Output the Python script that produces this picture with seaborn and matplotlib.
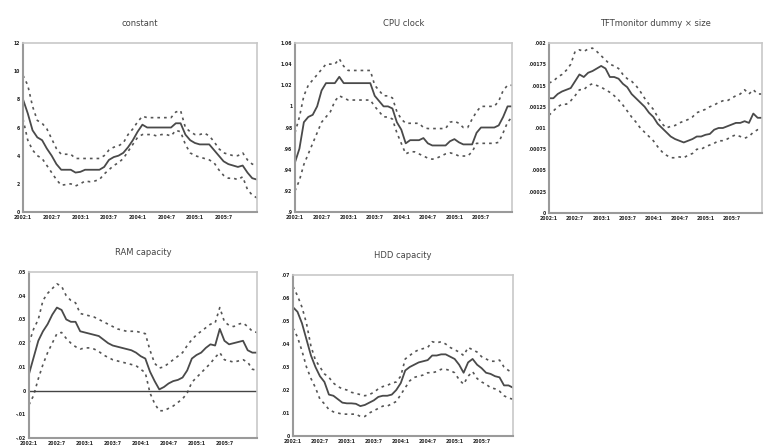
import numpy as np
import pandas as pd
import matplotlib
matplotlib.use("Agg")
import matplotlib.pyplot as plt
import seaborn as sns

sns.set_style("white")
plt.rcParams['font.family'] = ['DejaVu Sans']

titles = ["constant", "CPU clock", "TFTmonitor dummy \u00d7 size", "RAM capacity", "HDD capacity"]
xtick_labels = ["2002:1", "2002:7", "2003:1", "2003:7", "2004:1", "2004:7", "2005:1", "2005:7"]

const_mid = [8.0, 7.0, 5.8, 5.3, 5.1, 4.5, 4.0, 3.4, 3.0, 3.0, 3.0, 2.8, 2.85, 3.0, 3.0, 3.0, 3.0, 3.2, 3.7, 3.9,
             4.0, 4.2, 4.6, 5.1, 5.7, 6.2, 6.0, 6.0, 6.0, 6.0, 6.0, 6.0, 6.3, 6.3, 5.5, 5.1, 4.9, 4.8, 4.8, 4.8,
             4.4, 4.0, 3.6, 3.4, 3.3, 3.2, 3.3, 2.8, 2.4, 2.3]
const_up = [9.7, 9.0, 7.5, 6.5, 6.3, 5.9, 5.2, 4.5, 4.1, 4.1, 4.1, 3.8, 3.8, 3.8, 3.8, 3.8, 3.8, 4.0, 4.4, 4.6,
            4.7, 4.9, 5.5, 5.9, 6.4, 6.8, 6.7, 6.7, 6.7, 6.7, 6.7, 6.7, 7.1, 7.2, 6.0, 5.7, 5.5, 5.5, 5.6, 5.4,
            5.0, 4.5, 4.2, 4.1, 4.0, 4.0, 4.2, 3.7, 3.4, 3.3]
const_lo = [6.6, 5.1, 4.4, 4.0, 3.8, 3.3, 2.8, 2.3, 1.9, 1.95, 2.0, 1.85, 2.0, 2.2, 2.15, 2.2, 2.3, 2.7, 3.0, 3.3,
            3.5, 3.8, 4.3, 4.8, 5.3, 5.5, 5.5, 5.5, 5.4, 5.5, 5.5, 5.4, 5.8, 5.7, 4.8, 4.2, 4.0, 3.9, 3.8, 3.7,
            3.5, 3.0, 2.6, 2.4, 2.4, 2.3, 2.5, 1.6, 1.2, 1.0]

cpu_mid = [0.947, 0.96, 0.985, 0.99, 0.992, 1.0, 1.015, 1.022, 1.022, 1.022, 1.028, 1.022, 1.022, 1.022, 1.022,
           1.022, 1.022, 1.022, 1.01, 1.005, 1.0, 1.0, 0.998, 0.985, 0.978, 0.965, 0.968, 0.968, 0.968, 0.97,
           0.965, 0.963, 0.963, 0.963, 0.963, 0.967, 0.969, 0.966, 0.964, 0.964, 0.964, 0.975, 0.98, 0.98, 0.98,
           0.98, 0.982, 0.99, 1.0, 1.0]
cpu_up = [0.975, 0.99, 1.01, 1.02, 1.025, 1.03, 1.035, 1.04, 1.04, 1.04, 1.045, 1.038, 1.034, 1.034, 1.034,
          1.034, 1.034, 1.034, 1.02, 1.015, 1.01, 1.01, 1.008, 0.995, 0.988, 0.984, 0.984, 0.984, 0.984, 0.98,
          0.979, 0.979, 0.979, 0.979, 0.979, 0.985, 0.986, 0.984, 0.98, 0.98, 0.988, 0.995, 1.0, 1.0, 1.0,
          1.0, 1.005, 1.015, 1.02, 1.02]
cpu_lo = [0.92, 0.93, 0.945, 0.955, 0.965, 0.975, 0.985, 0.99, 0.995, 1.005, 1.01, 1.008, 1.006, 1.006, 1.006,
          1.006, 1.006, 1.006, 1.0, 0.995, 0.99, 0.99, 0.988, 0.975, 0.965, 0.955, 0.957, 0.957, 0.955, 0.953,
          0.951, 0.95, 0.951, 0.953, 0.955, 0.956, 0.955, 0.953, 0.953, 0.953, 0.957, 0.965, 0.965, 0.965, 0.965,
          0.965, 0.966, 0.975, 0.985, 0.99]

tft_mid = [0.00135, 0.00135, 0.0014, 0.00143, 0.00145, 0.00147, 0.00155, 0.00163, 0.0016, 0.00165, 0.00167,
           0.0017, 0.00173, 0.0017, 0.0016, 0.0016, 0.00158, 0.00152, 0.00148, 0.0014, 0.00135, 0.0013, 0.00125,
           0.00118, 0.00113, 0.00105, 0.001, 0.00095, 0.0009, 0.00087, 0.00085, 0.00083, 0.00085, 0.00087, 0.0009,
           0.0009, 0.00092, 0.00093, 0.00098, 0.001, 0.001, 0.00102, 0.00104, 0.00106, 0.00106, 0.00108, 0.00106,
           0.00117, 0.00112, 0.00112]
tft_up = [0.00153, 0.00155, 0.0016, 0.00163, 0.00168, 0.00175, 0.0019, 0.00192, 0.0019, 0.00193, 0.00194, 0.0019,
          0.00185, 0.0018, 0.00175, 0.00173, 0.0017, 0.00163, 0.00158, 0.00155, 0.0015, 0.00143, 0.00135, 0.00128,
          0.00122, 0.00113, 0.00105, 0.001, 0.00102, 0.00103, 0.00106, 0.00108, 0.0011, 0.00113, 0.00118, 0.0012,
          0.00122, 0.00125, 0.00127, 0.0013, 0.00132, 0.00132, 0.00135, 0.00138, 0.0014, 0.00145, 0.0014, 0.00145,
          0.0014, 0.0014]
tft_lo = [0.00115, 0.0012, 0.00125, 0.00128, 0.00128, 0.00132, 0.00138, 0.00145, 0.00145, 0.0015, 0.00152, 0.0015,
          0.00148, 0.00145, 0.00142, 0.00138, 0.00133, 0.00127, 0.0012, 0.00113, 0.00107, 0.001, 0.00095, 0.0009,
          0.00085, 0.00078, 0.00072, 0.00068, 0.00065, 0.00065, 0.00066, 0.00065, 0.00068, 0.0007, 0.00075, 0.00075,
          0.00078, 0.0008, 0.00082, 0.00085, 0.00085, 0.00087, 0.0009, 0.00092, 0.0009, 0.00088, 0.0009, 0.00095,
          0.00098, 0.00098]

ram_mid = [0.7, 1.4, 2.1, 2.5, 2.8, 3.2, 3.5, 3.4, 3.0, 2.9, 2.9, 2.5, 2.45, 2.4, 2.35, 2.3, 2.15, 2.0, 1.9, 1.85,
           1.8, 1.75, 1.7, 1.6, 1.45, 1.35, 0.8, 0.4, 0.05, 0.15, 0.3, 0.4, 0.45, 0.55, 0.85, 1.35, 1.5, 1.6, 1.8,
           1.95, 1.9, 2.6, 2.1, 1.95, 2.0, 2.05, 2.1, 1.7, 1.6, 1.6]
ram_up = [2.0, 2.6, 3.0, 3.8, 4.1, 4.3, 4.5, 4.4, 4.0, 3.8, 3.7, 3.25, 3.2, 3.15, 3.1, 3.0, 2.9, 2.8, 2.7, 2.6,
          2.55, 2.5, 2.5, 2.5, 2.45, 2.4, 1.7, 1.15, 0.95, 1.0, 1.15, 1.3, 1.45, 1.6, 1.9, 2.15, 2.35, 2.5, 2.65,
          2.8, 2.85, 3.5, 2.9, 2.75, 2.7, 2.8, 2.85, 2.7, 2.5, 2.45]
ram_lo = [-0.6, -0.2, 0.5, 1.1, 1.6, 2.0, 2.4, 2.45, 2.2, 2.0, 1.85, 1.75, 1.8, 1.8, 1.75, 1.65, 1.5, 1.4, 1.3,
          1.25, 1.2, 1.15, 1.1, 1.05, 0.9, 0.75, -0.1, -0.55, -0.85, -0.85, -0.75, -0.65, -0.5, -0.35, -0.1, 0.35,
          0.55, 0.75, 0.95, 1.15, 1.4, 1.6, 1.3, 1.25, 1.2, 1.25, 1.3, 1.2, 0.9, 0.85]

hdd_mid = [5.6, 5.4, 4.9, 4.2, 3.5, 3.0, 2.6, 2.35, 1.8, 1.75, 1.6, 1.45, 1.42, 1.42, 1.4, 1.3, 1.35, 1.45, 1.55,
           1.7, 1.75, 1.75, 1.8, 2.0, 2.3, 2.85, 3.0, 3.1, 3.2, 3.25, 3.3, 3.5, 3.5, 3.55, 3.55, 3.45, 3.35, 3.1,
           2.75, 3.2, 3.35, 3.1, 2.95, 2.75, 2.7, 2.6, 2.55, 2.2, 2.2, 2.1]
hdd_up = [6.5, 6.1, 5.6, 4.9, 3.9, 3.3, 3.0, 2.7, 2.55, 2.3, 2.15, 2.05, 2.0, 1.9, 1.85, 1.8, 1.75, 1.8, 1.9, 2.05,
          2.15, 2.2, 2.3, 2.35, 2.6, 3.35, 3.5, 3.65, 3.75, 3.8, 3.85, 4.1, 4.05, 4.1, 4.0, 3.85, 3.75, 3.65, 3.5,
          3.85, 3.75, 3.65, 3.45, 3.35, 3.25, 3.25, 3.3, 3.0, 2.85, 2.75]
hdd_lo = [4.7, 4.3, 3.7, 3.0, 2.5, 2.1, 1.6, 1.4, 1.15, 1.05, 1.0, 0.95, 0.95, 0.95, 0.95, 0.85, 0.85, 1.0, 1.1,
          1.2, 1.3, 1.3, 1.4, 1.5, 1.8, 2.1, 2.4, 2.55, 2.6, 2.65, 2.75, 2.75, 2.8, 2.9, 2.9, 2.85, 2.75, 2.45,
          2.25, 2.6, 2.8, 2.5, 2.35, 2.25, 2.1, 2.05, 1.95, 1.75, 1.65, 1.6]

series = [
    (const_mid, const_up, const_lo, 1.0),
    (cpu_mid, cpu_up, cpu_lo, 1.0),
    (tft_mid, tft_up, tft_lo, 1.0),
    (ram_mid, ram_up, ram_lo, 0.01),
    (hdd_mid, hdd_up, hdd_lo, 0.01),
]

yticks = [
    [0, 2, 4, 6, 8, 10, 12],
    [0.90, 0.92, 0.94, 0.96, 0.98, 1.0, 1.02, 1.04, 1.06],
    [0, 0.00025, 0.0005, 0.00075, 0.001, 0.00125, 0.0015, 0.00175, 0.002],
    [-0.02, -0.01, 0, 0.01, 0.02, 0.03, 0.04, 0.05],
    [0, 0.01, 0.02, 0.03, 0.04, 0.05, 0.06, 0.07],
]
ytick_labels = [
    ["0", "2", "4", "6", "8", "10", "12"],
    [".9", ".92", ".94", ".96", ".98", "1", "1.02", "1.04", "1.06"],
    ["0", ".00025", ".0005", ".00075", ".001", ".00125", ".0015", ".00175", ".002"],
    ["-.02", "-.01", "0", ".01", ".02", ".03", ".04", ".05"],
    ["0", ".01", ".02", ".03", ".04", ".05", ".06", ".07"],
]

W, H = 764, 445
boxes = [  # left, right, top, bottom in pixels
    (23, 257, 43, 212),
    (295, 512, 43, 212),
    (549, 762, 43, 213),
    (29, 257, 272, 438),
    (293, 513, 275, 436),
]

fig = plt.figure(figsize=(W / 100, H / 100), dpi=100)
fig.patch.set_facecolor("white")

line_col = "#4a4a4a"
dash_col = "#555555"

for k in range(5):
    l, r, t, b = boxes[k]
    ax = fig.add_axes([l / W, 1 - b / H, (r - l) / W, (b - t) / H])
    mid, up, lo, sc = series[k]
    n = len(mid)
    df = pd.DataFrame({
        "t": np.arange(n),
        "mid": np.array(mid) * sc,
        "up": np.array(up) * sc,
        "lo": np.array(lo) * sc,
    })
    sns.lineplot(data=df, x="t", y="up", ax=ax, color=dash_col, lw=1.2, linestyle=(0, (1.6, 2.4)))
    sns.lineplot(data=df, x="t", y="lo", ax=ax, color=dash_col, lw=1.2, linestyle=(0, (1.6, 2.4)))
    sns.lineplot(data=df, x="t", y="mid", ax=ax, color=line_col, lw=1.3)
    if k == 3:
        ax.axhline(0, color="#444444", lw=1.0)
    ax.set_xlim(0, n - 1)
    ax.set_ylim(yticks[k][0], yticks[k][-1])
    ax.set_xticks(np.arange(0, 43, 6))
    ax.set_xticklabels(xtick_labels, fontsize=3.3, color="#222222", fontweight="bold")
    ax.set_yticks(yticks[k])
    ax.set_yticklabels(ytick_labels[k], fontsize=3.3, color="#222222", fontweight="bold")
    ax.set_xlabel("")
    ax.set_ylabel("")
    ax.tick_params(axis="both", length=2, width=0.6, pad=2, color="#888888", direction="in")
    ax.set_title(titles[k], fontsize=6, color="#444444", pad=12)
    for s in ["top", "right"]:
        ax.spines[s].set_color("#c8c8c8")
        ax.spines[s].set_linewidth(1.2)
    for s in ["left", "bottom"]:
        ax.spines[s].set_color("#9a9a9a")
        ax.spines[s].set_linewidth(1.5)

fig.savefig("out.png", dpi=100, facecolor="white")
